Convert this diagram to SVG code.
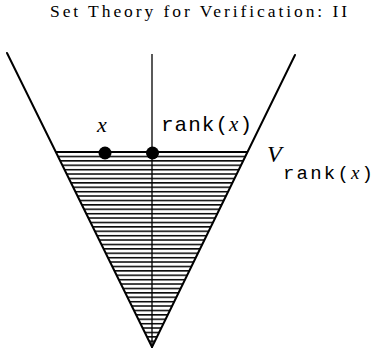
<svg xmlns="http://www.w3.org/2000/svg" width="376" height="354" viewBox="0 0 376 354">
<style>
.edge{stroke:#000;stroke-width:2;fill:none;stroke-linecap:round}
.axis{stroke:#000;stroke-width:1.3;fill:none}
.serif{font-family:"Liberation Serif","Times New Roman",serif;fill:#000}
.mono{font-family:"Liberation Mono","Courier New",monospace;fill:#000}
</style>
<defs>
<pattern id="hatch" patternUnits="userSpaceOnUse" x="0" y="151.3" width="376" height="4.4">
<rect x="0" y="0" width="376" height="1.5" fill="#000"/>
</pattern>
<clipPath id="tri"><polygon points="55.8,151 247.8,151 152,347"/></clipPath>
</defs>
<rect width="376" height="354" fill="#fff"/>
<text class="serif" x="50" y="17" font-size="17.5" textLength="297">Set Theory for Verification: II</text>
<g id="hatching">
<rect x="40" y="151" width="220" height="200" fill="url(#hatch)" clip-path="url(#tri)"/>
<line x1="55.8" y1="152" x2="247.8" y2="152" stroke="#000" stroke-width="2.2"/>
</g>
<g id="connectors">
<line class="edge" x1="7" y1="53" x2="152" y2="347"/>
<line class="edge" x1="295" y1="55" x2="152" y2="347"/>
<line class="axis" x1="152" y1="54" x2="152" y2="347"/>
</g>
<g id="node-x">
<circle cx="105" cy="153" r="6.5" fill="#000"/>
<text class="serif" x="97" y="132" font-size="22" font-style="italic">x</text>
</g>
<g id="node-rank">
<circle cx="152.5" cy="153" r="6.5" fill="#000"/>
<text class="mono" x="161" y="131" font-size="21" textLength="91">rank(<tspan class="serif" font-style="italic">x</tspan>)</text>
</g>
<g id="label-V">
<text class="serif" x="267" y="162" font-size="24" font-style="italic">V</text>
<text class="mono" x="283" y="179" font-size="19" textLength="90">rank(<tspan class="serif" font-style="italic">x</tspan>)</text>
</g>
</svg>
